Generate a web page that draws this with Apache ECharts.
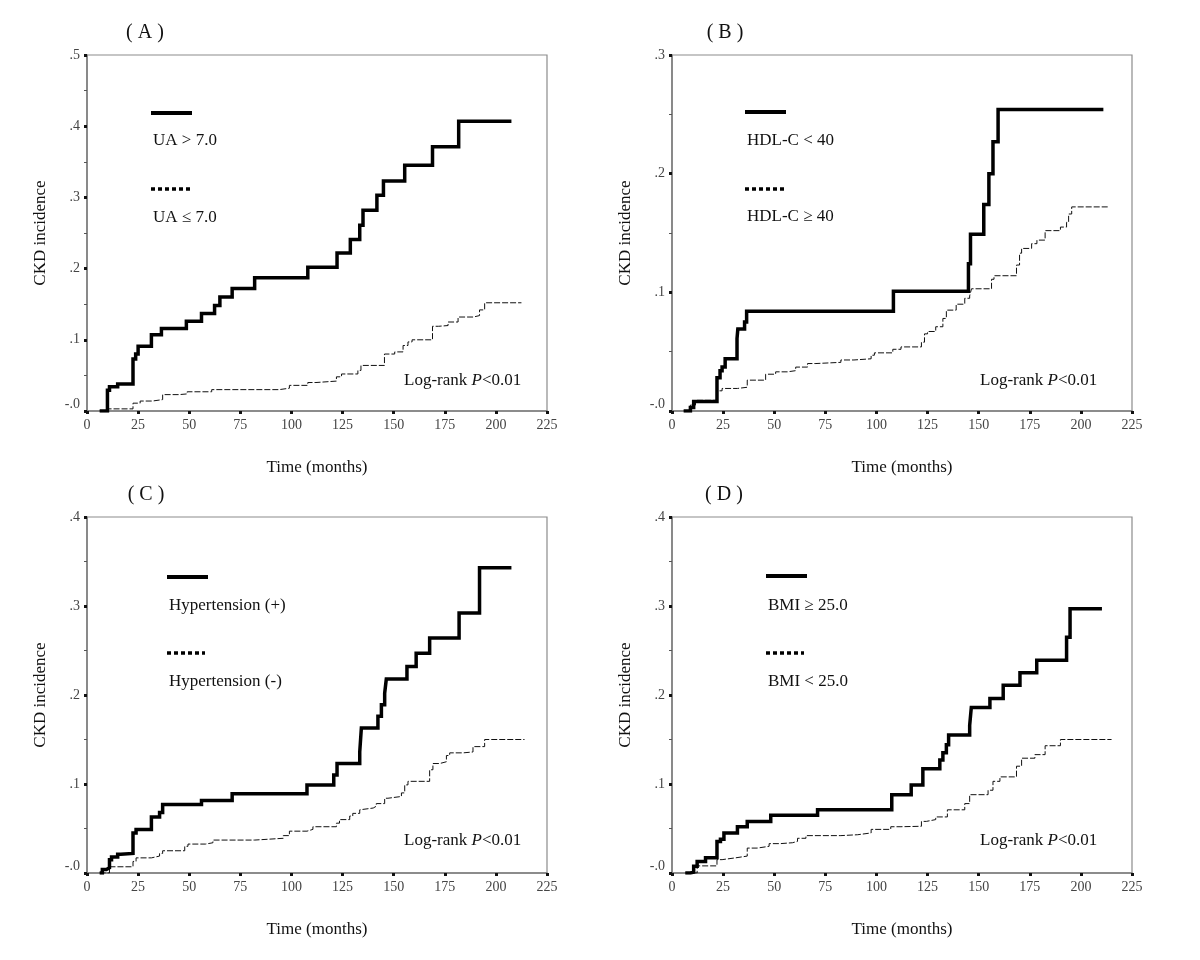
<!DOCTYPE html>
<html><head><meta charset="utf-8">
<script src="https://cdn.jsdelivr.net/npm/echarts@6/dist/echarts.min.js"></script>
<style>html,body{margin:0;padding:0;background:#fff}#c{width:1200px;height:960px}</style>
</head><body><div id="c"></div>
<script>
// ---------- DATA (time in months, cumulative CKD incidence) ----------
const panelTitles = ['( A )', '( B )', '( C )', '( D )'];
const legendHigh = ['UA > 7.0', 'HDL-C < 40', 'Hypertension (+)', 'BMI \u2265 25.0'];
const legendLow  = ['UA \u2264 7.0', 'HDL-C \u2265 40', 'Hypertension (-)', 'BMI < 25.0'];
const xAxisName = 'Time (months)';
const yAxisName = 'CKD incidence';
const pText = 'P';
const logRankPrefix = 'Log-rank ';
const logRankSuffix = '<0.01';

const xMin = 0, xMax = 225, xStep = 25;
const yMaxes = [0.5, 0.3, 0.4, 0.4];
const yTicksA = ['-.0', '.1', '.2', '.3', '.4', '.5'];
const yTicksB = ['-.0', '.1', '.2', '.3'];
const yTicksC = ['-.0', '.1', '.2', '.3', '.4'];
const yTicksD = ['-.0', '.1', '.2', '.3', '.4'];

// Panel A: UA > 7.0 (solid), UA <= 7.0 (dashed)
const aHigh = [[6.2,0],[10,0.029],[11,0.034],[15,0.038],[22.5,0.073],[23.8,0.080],[25,0.091],[31.5,0.107],[36.4,0.116],[48.6,0.126],[56,0.137],[62.4,0.148],[65,0.160],[71,0.172],[82,0.187],[108,0.202],[122.3,0.222],[128.8,0.241],[133.4,0.261],[135,0.282],[141.8,0.303],[145,0.323],[155.4,0.345],[169,0.371],[181.8,0.407],[207.6,0.407]];
const aLow = [[6.2,0],[10,0.003],[22.5,0.011],[26,0.014],[32,0.016],[37,0.023],[45,0.024],[49,0.027],[61,0.030],[94,0.032],[99,0.036],[108,0.040],[112,0.042],[122,0.048],[124.5,0.052],[132.5,0.057],[134,0.064],[145.5,0.080],[150.5,0.083],[154.6,0.092],[157,0.097],[159,0.100],[169,0.119],[172,0.120],[176.6,0.125],[181.5,0.132],[189,0.134],[192,0.142],[194.5,0.152],[212.5,0.152]];

// Panel B: HDL-C < 40 (solid), HDL-C >= 40 (dashed)
const bHigh = [[5.7,0],[9,0.003],[10.6,0.008],[22,0.028],[23.5,0.034],[24.5,0.037],[26,0.044],[31.8,0.061],[32.2,0.069],[35.5,0.075],[36.5,0.084],[108.3,0.101],[145,0.124],[146,0.149],[152.5,0.174],[155,0.200],[157,0.227],[159.5,0.254],[211,0.254]];
const bLow = [[5.7,0],[9,0.005],[11.5,0.009],[22,0.017],[24.5,0.019],[32,0.020],[36.8,0.026],[45.8,0.031],[50.7,0.033],[56.5,0.034],[60.5,0.037],[66.3,0.040],[70.4,0.041],[82.6,0.043],[89,0.044],[97.4,0.047],[99,0.049],[108,0.052],[112,0.054],[122,0.058],[123.5,0.065],[125,0.067],[129,0.071],[132.5,0.078],[134.2,0.085],[139,0.090],[143.2,0.095],[145.6,0.097],[146.5,0.103],[156.3,0.111],[157.5,0.114],[168.5,0.123],[170,0.133],[171,0.137],[175.9,0.141],[178.5,0.144],[182.5,0.152],[190,0.155],[193,0.159],[194,0.166],[195.5,0.172],[213.5,0.172]];

// Panel C: Hypertension (+) (solid), Hypertension (-) (dashed)
const cHigh = [[6.2,0],[7.5,0.004],[9.5,0.006],[11,0.015],[12,0.018],[15,0.021],[16.5,0.022],[22.5,0.045],[24,0.049],[31.5,0.063],[35.5,0.068],[37,0.077],[56,0.0815],[71,0.089],[107.6,0.099],[120.7,0.110],[122.3,0.123],[133.4,0.136],[134.2,0.163],[142.3,0.176],[144,0.189],[145.6,0.202],[146.4,0.218],[156.5,0.232],[161,0.247],[167.6,0.264],[182,0.292],[192,0.343],[207.6,0.343]];
const cLow = [[6.2,0],[11,0.007],[22.5,0.013],[24,0.017],[31.5,0.019],[35.5,0.022],[37,0.025],[47.8,0.030],[49.4,0.0325],[58,0.034],[61.6,0.037],[82,0.039],[96,0.042],[99,0.047],[107.6,0.049],[110.5,0.052],[122,0.056],[123.5,0.060],[128.5,0.064],[130,0.067],[133.4,0.071],[134.2,0.073],[140,0.075],[141.5,0.078],[145.6,0.084],[147.2,0.086],[153.8,0.090],[155.4,0.099],[157,0.103],[167.6,0.116],[169.2,0.123],[172.5,0.125],[175.8,0.132],[177.4,0.135],[184,0.136],[188.8,0.142],[194.5,0.150],[214,0.150]];

// Panel D: BMI >= 25.0 (solid), BMI < 25.0 (dashed)
const dHigh = [[6.5,0],[9,0.001],[10.6,0.0075],[12.3,0.013],[16.4,0.017],[22,0.0355],[23.7,0.038],[25.4,0.045],[32,0.052],[36.8,0.058],[48.3,0.065],[71.2,0.071],[107.5,0.088],[117,0.099],[122.7,0.117],[131,0.127],[132.5,0.135],[134.2,0.144],[135.3,0.155],[145.6,0.166],[146.4,0.186],[155.5,0.196],[162,0.211],[170.2,0.225],[178.4,0.239],[193,0.265],[194.7,0.297],[210.3,0.297]];
const dLow = [[6.5,0],[12.3,0.008],[22,0.015],[24.5,0.017],[31,0.019],[36.8,0.028],[41.7,0.030],[47.5,0.033],[53,0.034],[58.9,0.0355],[61.4,0.039],[65.5,0.042],[82.6,0.043],[90.8,0.045],[97.4,0.049],[107,0.052],[112,0.0525],[122,0.058],[124.4,0.060],[129,0.063],[134.7,0.071],[143.2,0.078],[145.6,0.088],[154.6,0.093],[157,0.103],[160.4,0.108],[168.5,0.120],[171,0.129],[177.5,0.133],[182.5,0.143],[190,0.150],[215,0.150]];

// ---------- LAYOUT / STYLE ----------
const FONT = 'Liberation Serif';
const highSets = [aHigh, bHigh, cHigh, dHigh];
const lowSets = [aLow, bLow, cLow, dLow];
const yTickSets = [yTicksA, yTicksB, yTicksC, yTicksD];
const gridPos = [
  {left: 87, top: 55},
  {left: 672, top: 55},
  {left: 87, top: 517},
  {left: 672, top: 517}
];
const GW = 460, GH = 356;
const legendPos = [
  {x: 151, y1: 113, t1: 141, y2: 189, t2: 218, len1: 41, len2: 39},
  {x: 745, y1: 112, t1: 141, y2: 189, t2: 217, len1: 41, len2: 39},
  {x: 167, y1: 577, t1: 606, y2: 653, t2: 682, len1: 41, len2: 38},
  {x: 766, y1: 576, t1: 606, y2: 653, t2: 682, len1: 41, len2: 38}
];
const logRankPos = [
  {x: 404, y: 381}, {x: 980, y: 381}, {x: 404, y: 841}, {x: 980, y: 841}
];
const titlePos = [
  {x: 145, y: 33}, {x: 725, y: 33}, {x: 146, y: 495}, {x: 724, y: 495}
];

const grids = [], xAxes = [], yAxes = [], series = [], graphics = [];
for (let i = 0; i < 4; i++) {
  grids.push({
    left: gridPos[i].left, top: gridPos[i].top, width: GW, height: GH,
    show: true, borderColor: '#8c8c8c', borderWidth: 1.2, backgroundColor: 'transparent'
  });
  xAxes.push({
    type: 'value', gridIndex: i, min: xMin, max: xMax, interval: xStep,
    name: xAxisName, nameLocation: 'middle', nameGap: 48,
    nameTextStyle: {fontFamily: FONT, fontSize: 17, color: '#111'},
    axisLine: {show: true, onZero: false, lineStyle: {color: '#7a7a7a', width: 1.5}},
    axisTick: {show: true, length: 3, lineStyle: {color: '#111', width: 3}},
    axisLabel: {fontFamily: FONT, fontSize: 14, color: '#444', margin: 7},
    splitLine: {show: false}
  });
  const labels = yTickSets[i];
  yAxes.push({
    type: 'value', gridIndex: i, min: 0, max: yMaxes[i], interval: 0.1,
    name: yAxisName, nameLocation: 'middle', nameGap: 38, nameRotate: 90,
    nameTextStyle: {fontFamily: FONT, fontSize: 17, color: '#111'},
    axisLine: {show: true, onZero: false, lineStyle: {color: '#7a7a7a', width: 1.5}},
    axisTick: {show: true, length: 3, lineStyle: {color: '#111', width: 3}},
    minorTick: {show: true, splitNumber: 2, length: 3, lineStyle: {color: '#555', width: 1}},
    axisLabel: {fontFamily: FONT, fontSize: 14, color: '#444', margin: 7,
      formatter: (v) => {
        const k = Math.round(v * 10);
        return k === 0 ? '{z|' + labels[k] + '}' : labels[k];
      },
      rich: {z: {fontFamily: FONT, fontSize: 14, color: '#444', padding: [0, 0, 14, 0]}}},
    splitLine: {show: false}
  });
  series.push({
    type: 'line', xAxisIndex: i, yAxisIndex: i, step: 'end', data: highSets[i],
    name: legendHigh[i], showSymbol: false, symbol: 'none', silent: true,
    lineStyle: {color: '#000', width: 3.5, cap: 'butt', join: 'miter'}, z: 3
  });
  series.push({
    type: 'line', xAxisIndex: i, yAxisIndex: i, step: 'end', data: lowSets[i],
    name: legendLow[i], showSymbol: false, symbol: 'none', silent: true,
    lineStyle: {color: '#111', width: 1, type: [6, 2]}, z: 2
  });

  const lp = legendPos[i];
  graphics.push({type: 'line', shape: {x1: lp.x, y1: lp.y1, x2: lp.x + lp.len1, y2: lp.y1},
    style: {stroke: '#000', lineWidth: 4}});
  graphics.push({type: 'text', x: lp.x + 2, y: lp.t1,
    style: {text: legendHigh[i], font: '17px "' + FONT + '"', fill: '#111', textVerticalAlign: 'middle', verticalAlign: 'middle'}});
  graphics.push({type: 'line', shape: {x1: lp.x, y1: lp.y2, x2: lp.x + lp.len2, y2: lp.y2},
    style: {stroke: '#000', lineWidth: 3.5, lineDash: [4, 3]}});
  graphics.push({type: 'text', x: lp.x + 2, y: lp.t2,
    style: {text: legendLow[i], font: '17px "' + FONT + '"', fill: '#111', textVerticalAlign: 'middle', verticalAlign: 'middle'}});

  const rp = logRankPos[i];
  graphics.push({type: 'text', x: rp.x, y: rp.y,
    style: {text: logRankPrefix + '{i|' + pText + '}' + logRankSuffix,
      font: '17px "' + FONT + '"', fontFamily: FONT, fontSize: 17, fill: '#111',
      verticalAlign: 'middle', textVerticalAlign: 'middle',
      rich: {i: {fontStyle: 'italic', fontFamily: FONT, fontSize: 17, fill: '#111'}}}});

  const tp = titlePos[i];
  graphics.push({type: 'text', x: tp.x, y: tp.y,
    style: {text: panelTitles[i], font: '20px "' + FONT + '"', fill: '#111',
      align: 'center', textAlign: 'center', verticalAlign: 'middle', textVerticalAlign: 'middle'}});
}

const chart = echarts.init(document.getElementById('c'), null, {renderer: 'canvas'});
chart.setOption({
  backgroundColor: '#fff',
  animation: false,
  grid: grids, xAxis: xAxes, yAxis: yAxes, series: series,
  graphic: {elements: graphics}
});
</script></body></html>
